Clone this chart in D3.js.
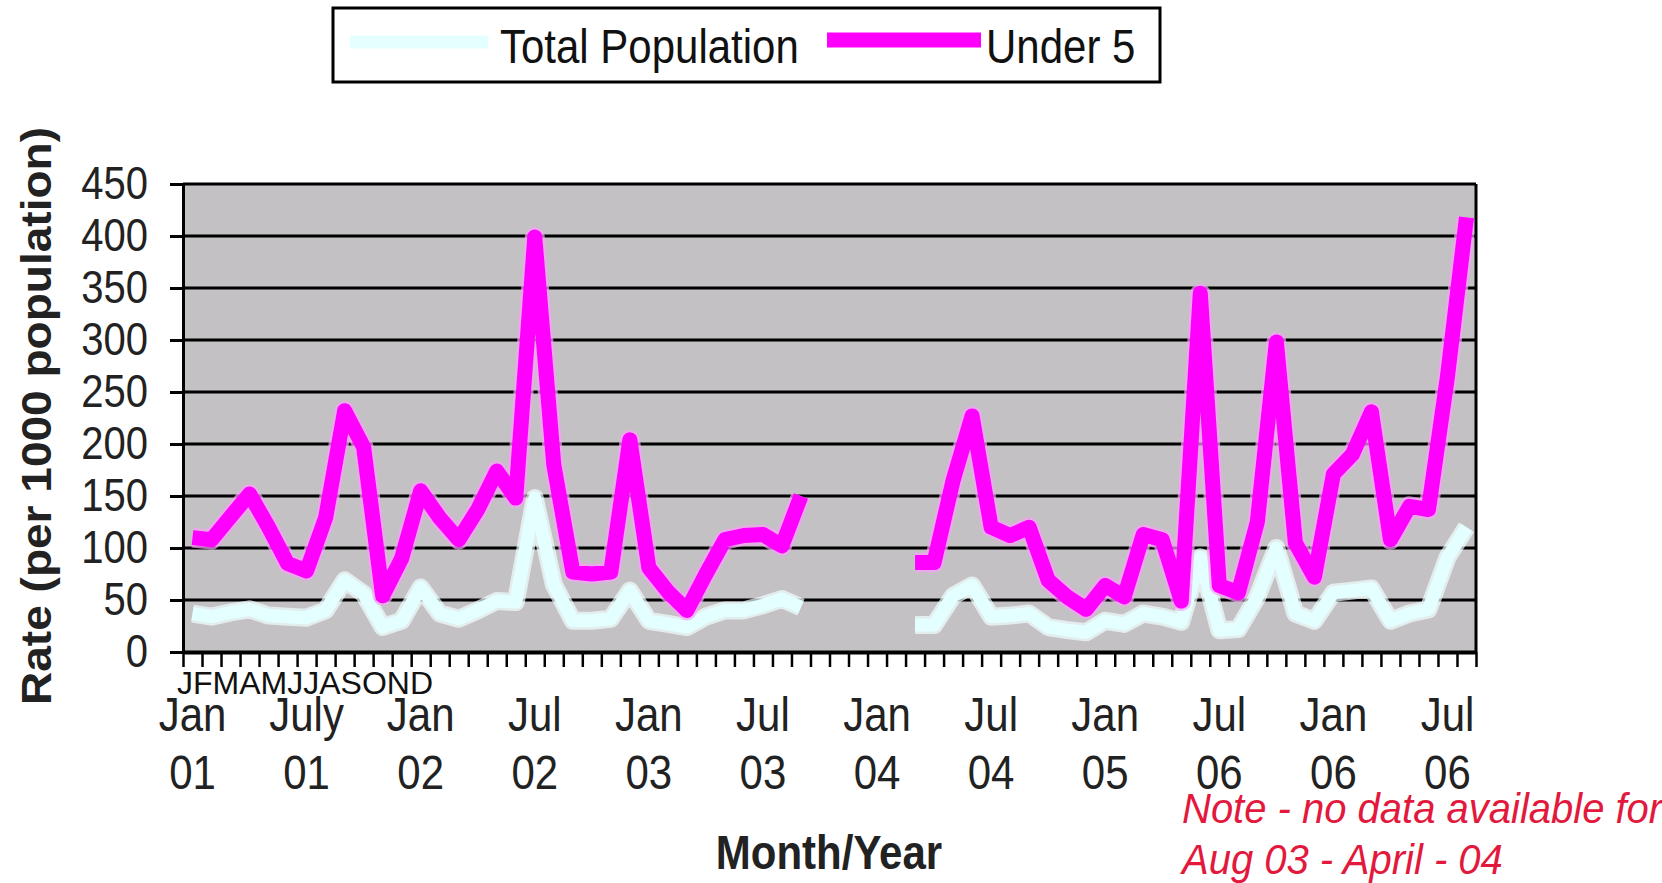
<!DOCTYPE html>
<html>
<head>
<meta charset="utf-8">
<script src="https://cdnjs.cloudflare.com/ajax/libs/d3/7.8.5/d3.min.js"></script>
<style>
	body { margin: 0; background: #fff; }
	text { font-family: "Liberation Sans", Arial, sans-serif; }
</style>
</head>
<body>
<script>

let width = 1662;
let height = 883;

let plot = { left: 183, right: 1476, top: 184, bottom: 652 };

// Monthly categories, Jan 01 .. Aug 06
let monthNames = ["Jan","Feb","Mar","Apr","May","Jun","Jul","Aug","Sep","Oct","Nov","Dec"];
let categories = d3.range(68).map(i => monthNames[i % 12] + " " + String(1 + Math.floor(i / 12)).padStart(2, "0"));

// Rates per 1000 population (null = no data Oct 03 - Feb 04)
let under5 = [110,108,130,152,120,85,78,129,232,197,54,90,155,129,108,137,174,148,399,180,
	77,75,77,204,81,58,40,75,108,112,113,102,150,null,null,null,null,null,86,86,
	165,227,120,112,120,69,53,41,64,53,113,108,49,345,64,57,125,298,105,72,
	171,190,231,108,140,137,265,418];
let totalPop = [37,34,38,41,35,34,33,40,69,56,24,30,62,37,32,40,49,48,148,65,
	30,30,32,59,30,27,24,34,40,40,45,51,43,null,null,null,null,null,26,26,
	54,64,34,35,37,24,21,19,30,27,37,34,29,91,21,22,53,100,37,30,
	57,59,61,30,37,41,91,120];

// Axis labels
let yTicks = [0,50,100,150,200,250,300,350,400,450];
let labelIndex = [0,6,12,18,24,30,36,42,48,54,60,66];
let labelMonth = ["Jan","July","Jan","Jul","Jan","Jul","Jan","Jul","Jan","Jul","Jan","Jul"];
let labelYear = ["01","01","02","02","03","03","04","04","05","06","06","06"];

let series = [
	{title: "Total Population", color: "#e4ffff", width: 13, halo: "#f2ffff", values: totalPop},
	{title: "Under 5", color: "#ff00ff", width: 15, halo: "#f7a3f7", values: under5}
];

let xScale = d3.scaleLinear()
	.domain([0, categories.length])
	.range([plot.left, plot.right]);

let yScale = d3.scaleLinear()
	.domain([0, 450])
	.range([plot.bottom, plot.top]);

let svg = d3.select("body")
	.append("svg")
		.attr("width", width)
		.attr("height", height);

// Plot area
svg.append("rect")
	.attr("x", plot.left)
	.attr("y", plot.top)
	.attr("width", plot.right - plot.left)
	.attr("height", plot.bottom - plot.top)
	.style("fill", "#c3c1c3");

// Gridlines
svg.selectAll("line.grid")
	.data(yTicks.filter(d => d > 0))
	.enter().append("line")
		.attr("class", "grid")
		.attr("x1", plot.left)
		.attr("x2", plot.right)
		.attr("y1", d => yScale(d))
		.attr("y2", d => yScale(d))
		.style("stroke", "#000")
		.style("stroke-width", 3);

// Lines
series.forEach((s) => {
	let line = d3.line()
		.defined(d => d != null)
		.x((d, i) => xScale(i + 0.5))
		.y(d => yScale(d));

	svg.append("path")
		.datum(s.values)
		.attr("d", line)
		.style("fill", "none")
		.style("stroke", s.halo)
		.style("stroke-width", s.width + 5)
		.style("stroke-linejoin", "round")
		.style("opacity", 0.7);

	svg.append("path")
		.datum(s.values)
		.attr("class", "line")
		.attr("d", line)
		.style("fill", "none")
		.style("stroke", s.color)
		.style("stroke-width", s.width)
		.style("stroke-linejoin", "round");
});

// Right border
svg.append("line")
	.attr("x1", plot.right).attr("x2", plot.right)
	.attr("y1", plot.top).attr("y2", plot.bottom)
	.style("stroke", "#000")
	.style("stroke-width", 3);

// y axis
let yAxis = svg.append("g")
	.attr("transform", "translate(" + plot.left + ",0)")
	.call(d3.axisLeft(yScale).tickValues(yTicks).tickSize(13).tickSizeOuter(0).tickPadding(22));
yAxis.select(".domain").style("stroke-width", 3);
yAxis.selectAll(".tick line").style("stroke-width", 3);
yAxis.selectAll(".tick text")
	.attr("transform", "scale(1,1.14)")
	.style("font-size", "40px")
	.style("font-family", "'Liberation Sans', Arial, sans-serif")
	.style("fill", "#222");

// x axis, ticks between months
let xAxis = svg.append("g")
	.attr("transform", "translate(0," + plot.bottom + ")")
	.call(d3.axisBottom(xScale).tickValues(d3.range(categories.length + 1)).tickSize(15).tickSizeOuter(0).tickFormat(""));
xAxis.select(".domain").style("stroke-width", 4);
xAxis.selectAll(".tick line").style("stroke-width", 2.5);

svg.append("text")
	.attr("x", 177)
	.attr("y", 694)
	.style("font-size", "32px")
	.style("fill", "#111")
	.text("JFMAMJJASOND");

svg.selectAll("text.month")
	.data(labelIndex)
	.enter().append("text")
		.attr("class", "month")
		.attr("transform", d => "translate(" + xScale(d + 0.5) + ",731) scale(1,1.15)")
		.attr("text-anchor", "middle")
		.style("font-size", "42px")
		.style("fill", "#222")
		.text((d, i) => labelMonth[i]);

svg.selectAll("text.year")
	.data(labelIndex)
	.enter().append("text")
		.attr("class", "year")
		.attr("transform", d => "translate(" + xScale(d + 0.5) + ",789) scale(1,1.15)")
		.attr("text-anchor", "middle")
		.style("font-size", "42px")
		.style("fill", "#222")
		.text((d, i) => labelYear[i]);

// Axis titles
svg.append("text")
	.attr("transform", "translate(51,416) rotate(-90)")
	.attr("text-anchor", "middle")
	.attr("textLength", 578)
	.attr("lengthAdjust", "spacingAndGlyphs")
	.style("font-size", "43px")
	.style("font-weight", "bold")
	.style("fill", "#222")
	.text("Rate (per 1000 population)");

svg.append("text")
	.attr("transform", "translate(829,869) scale(1,1.15)")
	.attr("text-anchor", "middle")
	.style("font-size", "42px")
	.style("font-weight", "bold")
	.style("fill", "#222")
	.text("Month/Year");

// Note
let note = ["Note - no data available for", "Aug 03 - April - 04"];
svg.selectAll("text.note")
	.data(note)
	.enter().append("text")
		.attr("class", "note")
		.attr("transform", (d, i) => "translate(1182," + (823 + i * 51) + ") scale(1,1.05)")
		.style("font-size", "40px")
		.style("font-style", "italic")
		.style("fill", "#e2193c")
		.text(d => d);

// Legend
let legend = svg.append("g");
legend.append("rect")
	.attr("x", 333)
	.attr("y", 8)
	.attr("width", 827)
	.attr("height", 74)
	.style("fill", "#fff")
	.style("stroke", "#000")
	.style("stroke-width", 3);

let legendPos = [
	{x1: 350, x2: 488, y: 42, tx: 500, w: 13},
	{x1: 827, x2: 981, y: 40, tx: 986, w: 15}
];

legend.selectAll("line.key")
	.data(series)
	.enter().append("line")
		.attr("class", "key")
		.attr("x1", (d, i) => legendPos[i].x1)
		.attr("x2", (d, i) => legendPos[i].x2)
		.attr("y1", (d, i) => legendPos[i].y)
		.attr("y2", (d, i) => legendPos[i].y)
		.style("stroke", d => d.color)
		.style("stroke-width", (d, i) => legendPos[i].w);

legend.selectAll("text.key")
	.data(series)
	.enter().append("text")
		.attr("class", "key")
		.attr("transform", (d, i) => "translate(" + legendPos[i].tx + ",63) scale(1,1.15)")
		.attr("textLength", i => null)
		.style("font-size", "42px")
		.style("fill", "#111")
		.text(d => d.title);

</script>
</body>
</html>
